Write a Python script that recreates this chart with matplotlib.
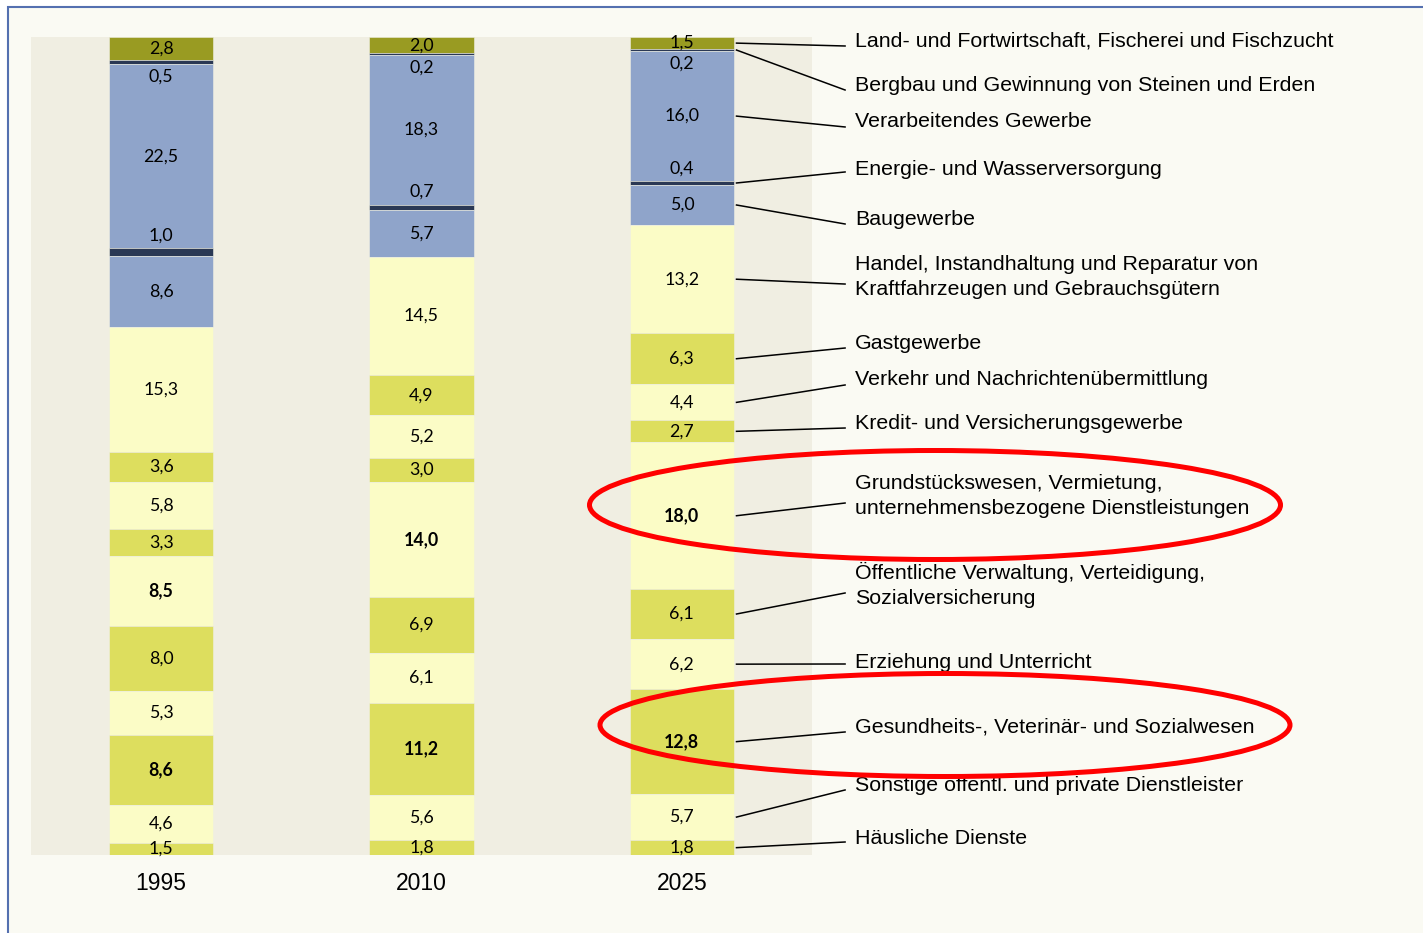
import numpy as np
import matplotlib
matplotlib.use('Agg')
import matplotlib.pyplot as plt
from matplotlib import patches

years = ['1995', '2010', '2025']
sectors = [
    'Land- und Fortwirtschaft, Fischerei und Fischzucht',
    'Bergbau und Gewinnung von Steinen und Erden',
    'Verarbeitendes Gewerbe',
    'Energie- und Wasserversorgung',
    'Baugewerbe',
    'Handel, Instandhaltung und Reparatur von\nKraftfahrzeugen und Gebrauchsgütern',
    'Gastgewerbe',
    'Verkehr und Nachrichtenübermittlung',
    'Kredit- und Versicherungsgewerbe',
    'Grundstückswesen, Vermietung,\nunternehmensbezogene Dienstleistungen',
    'Öffentliche Verwaltung, Verteidigung,\nSozialversicherung',
    'Erziehung und Unterricht',
    'Gesundheits-, Veterinär- und Sozialwesen',
    'Sonstige öffentl. und private Dienstleister',
    'Häusliche Dienste',
]
v1995 = [2.8, 0.5, 22.5, 1.0, 8.6, 15.3, 3.6, 5.8, 3.3, 8.5, 8.0, 5.3, 8.6, 4.6, 1.5]
v2010 = [2.0, 0.2, 18.3, 0.7, 5.7, 14.5, 4.9, 5.2, 3.0, 14.0, 6.9, 6.1, 11.2, 5.6, 1.8]
v2025 = [1.5, 0.2, 16.0, 0.4, 5.0, 13.2, 6.3, 4.4, 2.7, 18.0, 6.1, 6.2, 12.8, 5.7, 1.8]
values = [v1995, v2010, v2025]

# colours / styles
OLIVE, NAVY, BLUE = '#999b22', '#2a3854', '#8fa4ca'
LIGHT, YG = '#fbfcc6', '#dddE5e'
seg_colors = [OLIVE, NAVY, BLUE, NAVY, BLUE] + [LIGHT, YG] * 5
bold_idx = {9, 12}
small_below = {1}   # label drawn below the thin band
small_above = {3}   # label drawn above the thin band

# right-hand label layout (percent units from top)
label_y = [0.49, 5.87, 10.27, 16.14, 22.37, 29.34, 37.41, 41.93, 47.19,
           56.11, 66.99, 76.41, 84.35, 91.56, 98.04]
line_end_y = [1.10, 6.48, 11.0, 16.5, 22.86, 30.2, 38.02, 42.54, 47.8,
              56.97, 67.97, 76.65, 84.96, 92.05, 98.41]

W, H = 1423, 933
fig = plt.figure(figsize=(W / 100, H / 100), dpi=100)
fig.patch.set_facecolor('white')
fig.add_artist(patches.Rectangle((8 / W, -0.1), 1.2, 1.1 - 7 / H,
                                 transform=fig.transFigure, facecolor='#fafaf3',
                                 edgecolor='#5470b0', lw=1.5, zorder=-5))

ax = fig.add_axes([31 / W, 1 - 855 / H, 781 / W, 818 / H])
ax.set_facecolor('#f0eee2')
ax.set_xlim(-0.5, 2.5)
ax.set_ylim(100, 0)
for s in ax.spines.values():
    s.set_visible(False)
ax.set_yticks([])
ax.set_xticks(range(3))
ax.set_xticklabels(years, fontsize=16.5, family='Liberation Sans')
ax.tick_params(axis='x', length=0, pad=12)

bw = 0.4
centers25 = None
for i, col in enumerate(values):
    v = np.array(col, dtype=float)
    v = v / v.sum() * 100
    tops = np.concatenate([[0], np.cumsum(v)[:-1]])
    ax.bar(np.full(len(v), i), v, bottom=tops, width=bw, color=seg_colors,
           edgecolor='#eeeee2', linewidth=0.4)
    for k, (val, t) in enumerate(zip(v, tops)):
        y = t + val / 2
        if k in small_below:
            y = t + val + 1.6
        elif k in small_above:
            y = t - 1.6
        ax.text(i, y, f'{col[k]:.1f}'.replace('.', ','), ha='center', va='center',
                fontsize=12.8, family='Lato',
                fontweight='bold' if k in bold_idx else 'normal', zorder=5)
    if i == 2:
        centers25 = tops + v / 2

x_edge = 2 + bw / 2
x_end = 2.627
x_lab = 2.665
for k, name in enumerate(sectors):
    ax.plot([x_edge + 0.01, x_end], [centers25[k], line_end_y[k]], color='black',
            lw=1.1, clip_on=False, zorder=4)
    ax.text(x_lab, label_y[k], name, ha='left', va='center', fontsize=15.4,
            family='Liberation Sans', linespacing=1.4, clip_on=False)

for cx, cy, ew, eh in [(935, 505, 691, 109), (945, 725, 690, 103)]:
    fig.add_artist(patches.Ellipse((cx / W, 1 - cy / H), ew / W, eh / H,
                                   transform=fig.transFigure, fill=False,
                                   edgecolor='#ff0000', lw=3.6, zorder=10))

fig.savefig('out.png', dpi=100, facecolor=fig.get_facecolor())
